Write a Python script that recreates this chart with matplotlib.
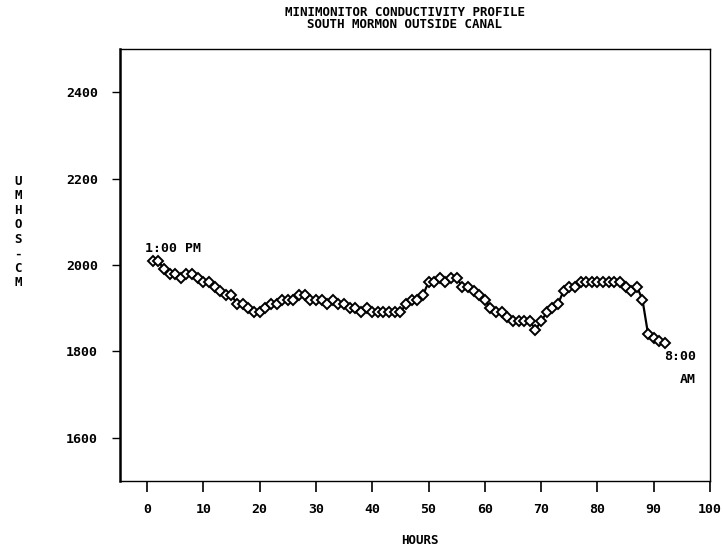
import matplotlib
matplotlib.use("Agg")
import matplotlib.pyplot as plt

# hourly conductivity readings
hours = list(range(1, 93))
umhos = [2010, 2010, 1990, 1980, 1980, 1970, 1980, 1980, 1970, 1960,
         1960, 1950, 1940, 1930, 1930, 1910, 1910, 1900, 1890, 1890,
         1900, 1910, 1910, 1920, 1920, 1920, 1930, 1930, 1920, 1920,
         1920, 1910, 1920, 1910, 1910, 1900, 1900, 1890, 1900, 1890,
         1890, 1890, 1890, 1890, 1890, 1910, 1920, 1920, 1930, 1960,
         1960, 1970, 1960, 1970, 1970, 1950, 1950, 1940, 1930, 1920,
         1900, 1890, 1890, 1880, 1870, 1870, 1870, 1870, 1850, 1870,
         1890, 1900, 1910, 1940, 1950, 1950, 1960, 1960, 1960, 1960,
         1960, 1960, 1960, 1960, 1950, 1940, 1950, 1920, 1840, 1830,
         1825, 1820]

xticks = list(range(0, 101, 10))
yticks = [1600, 1800, 2000, 2200, 2400]

plt.rcParams['font.family'] = ['DejaVu Sans Mono']
plt.rcParams['font.weight'] = 'bold'

fig = plt.figure(figsize=(7.23, 5.5), dpi=100)
ax = fig.add_axes([0.166, 0.1255, 0.816, 0.7855])

ax.plot(hours, umhos, color='black', lw=1.6, marker='D', ms=5,
        mfc='white', mec='black', mew=1.4)

ax.set_xlim(-4.8, 100)
ax.set_ylim(1500, 2500)
ax.set_xticks(xticks)
ax.set_yticks(yticks)
ax.tick_params(axis='x', direction='out', length=8, width=1.2, pad=8, labelsize=9.5)
ax.tick_params(axis='y', direction='out', length=6, width=1.0, pad=10, labelsize=9.5)
for s in ax.spines.values():
    s.set_linewidth(1.0)
ax.spines['left'].set_linewidth(1.8)

ax.text(-0.3, 2022, '1:00 PM', fontsize=9.5, ha='left', va='bottom')
ax.text(97.5, 1787, '8:00', fontsize=9.5, ha='right', va='center')
ax.text(97.5, 1735, 'AM', fontsize=9.5, ha='right', va='center')

fig.text(0.56, 0.99, 'MINIMONITOR CONDUCTIVITY PROFILE\nSOUTH MORMON OUTSIDE CANAL',
         ha='center', va='top', fontsize=9, linespacing=0.95)
fig.text(0.581, 0.005, 'HOURS', ha='center', va='bottom', fontsize=9)
fig.text(0.025, 0.578, '\n'.join('UMHOS-CM'), ha='center', va='center',
         fontsize=9, linespacing=1.15)

fig.savefig('out.png', dpi=100)
